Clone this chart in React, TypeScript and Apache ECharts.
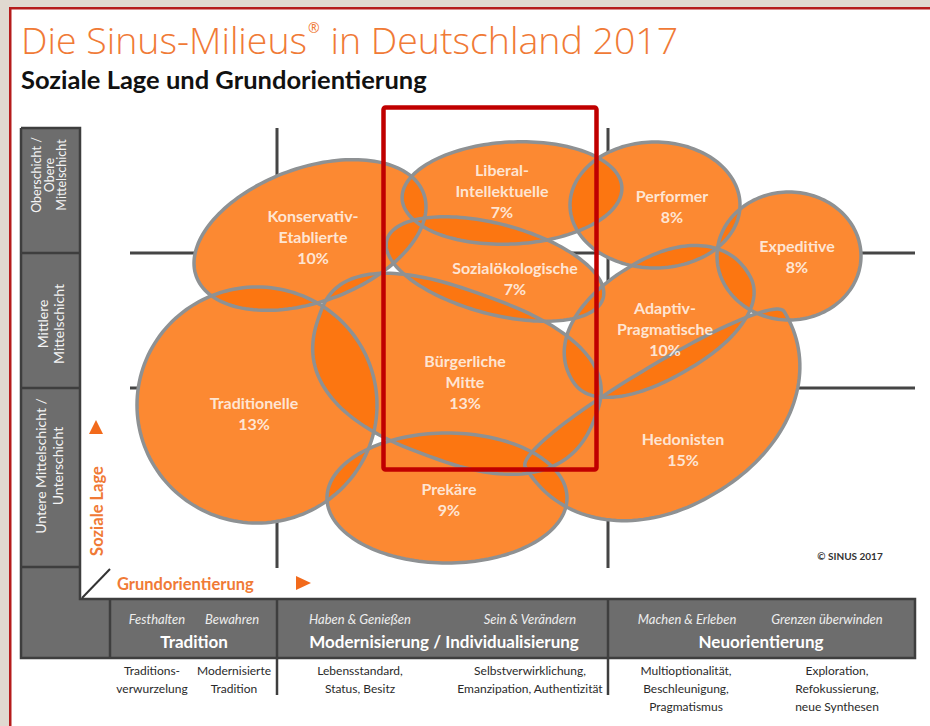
import React, { useEffect, useRef } from 'react';
import * as echarts from 'echarts';

// ---- data ----
const milieuNames = [
  'Konservativ-\nEtablierte',
  'Liberal-\nIntellektuelle',
  'Performer',
  'Expeditive',
  'Sozialökologische',
  'Adaptiv-\nPragmatische',
  'Bürgerliche\nMitte',
  'Traditionelle',
  'Prekäre',
  'Hedonisten',
];
const milieuShares = [10, 7, 8, 8, 7, 10, 13, 13, 9, 15];
// blob position on Grundorientierung (x) / Soziale Lage (y)
const blobCenterX = [180, 382, 525, 659, 365, 535, 332, 127, 317, 524];
const blobCenterY = [333, 375, 363, 312, 299, 243, 203, 163, 70, 178];
const blobRadiusRight = [121, 110, 85, 72, 112, 98, 143, 120, 120, 152];
const blobRadiusTop = [67, 51, 63, 64, 45, 68, 73, 118, 65, 22];
const blobRadiusLeft = [121, 110, 85, 72, 112, 108, 151, 120, 120, 150];
const blobRadiusBottom = [67, 51, 63, 64, 45, 50, 97, 118, 65, 120];
const blobTilt = [20, 3, 0, 0, -15, 31, -20, 0, 0, 31];
const blobRoundness = [2, 2, 2, 2, 2, 2.2, 2.5, 2, 2, 2.1];
const labelX = [183, 372, 542, 667, 385, 535, 335, 124, 319, 553];
const labelY = [332, 378, 362, 312, 290, 240, 187, 155, 69, 119];

const orientationBounds = [147, 478];
const socialBounds = [180, 315];

const socialLayers = ['Oberschicht /\nObere\nMittelschicht', 'Mittlere\nMittelschicht', 'Untere Mittelschicht /\nUnterschicht'];
const orientationGroups = ['Tradition', 'Modernisierung / Individualisierung', 'Neuorientierung'];
const orientationSubs = ['Festhalten', 'Bewahren', 'Haben & Genießen', 'Sein & Verändern', 'Machen & Erleben', 'Grenzen überwinden'];
const orientationNotes = [
  'Traditions-\nverwurzelung',
  'Modernisierte\nTradition',
  'Lebensstandard,\nStatus, Besitz',
  'Selbstverwirklichung,\nEmanzipation, Authentizität',
  'Multioptionalität,\nBeschleunigung,\nPragmatismus',
  'Exploration,\nRefokussierung,\nneue Synthesen',
];

const FONT = 'Lato, "Open Sans", sans-serif';
const ORANGE_TXT = '#f07a36';

function blobPoints(cx: number, cy: number, rR: number, rT: number, rL: number, rB: number, tiltDeg: number, n: number) {
  const th = (tiltDeg * Math.PI) / 180;
  const pts: number[][] = [];
  const N = 160;
  const e = 2 / n;
  for (let i = 0; i < N; i++) {
    const t = (i / N) * Math.PI * 2;
    const c = Math.cos(t);
    const s = Math.sin(t);
    const lx = Math.sign(c) * Math.pow(Math.abs(c), e) * (c >= 0 ? rR : rL);
    const ly = Math.sign(s) * Math.pow(Math.abs(s), e) * (s >= 0 ? rT : rB);
    pts.push([cx + lx * Math.cos(th) - ly * Math.sin(th), cy - (lx * Math.sin(th) + ly * Math.cos(th))]);
  }
  return pts;
}

const blobData = milieuNames.map((n, i) => ({
  name: n,
  value: [
    blobCenterX[i], blobCenterY[i],
    blobRadiusRight[i], blobRadiusTop[i], blobRadiusLeft[i], blobRadiusBottom[i],
    blobTilt[i], blobRoundness[i],
  ],
}));

function blobRenderer(style: any) {
  return (params: any, api: any) => {
    const c = api.coord([api.value(0), api.value(1)]);
    const a = api.size([api.value(2), api.value(3)]);
    const b = api.size([api.value(4), api.value(5)]);
    return {
      type: 'polygon',
      shape: { points: blobPoints(c[0], c[1], a[0], a[1], b[0], b[1], api.value(6), api.value(7)) },
      style,
    };
  };
}

const gridLineData = [
  ...orientationBounds.map((x) => [x, 0, x, 440]),
  ...socialBounds.map((y) => [0, y, 785, y]),
];

export default function App() {
  const ref = useRef<HTMLDivElement>(null);
  useEffect(() => {
    if (!ref.current) return;
    const chart = echarts.init(ref.current, null, { renderer: 'svg' });

    const g: any[] = [];
    // frame
    g.push({ type: 'rect', z: 0, shape: { x: 0, y: 0, width: 930, height: 726 }, style: { fill: '#e0d9d0' } });
    g.push({ type: 'rect', z: 0, shape: { x: 10, y: 8, width: 920, height: 718 }, style: { fill: '#ffffff' } });
    g.push({ type: 'rect', z: 0, shape: { x: 9, y: 7, width: 921, height: 2.5 }, style: { fill: '#b51c1c' } });
    g.push({ type: 'rect', z: 0, shape: { x: 9, y: 7, width: 2.5, height: 719 }, style: { fill: '#b51c1c' } });
    // title
    g.push({
      type: 'text', z: 1, x: 21, y: 39,
      style: {
        text: '{a|Die Sinus-Milieus}{r|®}{a| in Deutschland 2017}',
        verticalAlign: 'middle',
        rich: {
          a: { fontSize: 37.5, fontFamily: '"Open Sans", Lato, sans-serif', fill: ORANGE_TXT, color: ORANGE_TXT, fontWeight: 300 },
          r: { fontSize: 14, fontFamily: '"Open Sans", Lato, sans-serif', fill: ORANGE_TXT, color: ORANGE_TXT, verticalAlign: 'top', padding: [0, 1, 16, 1] },
        },
      },
    });
    g.push({
      type: 'text', z: 1, x: 21, y: 79,
      style: { text: 'Soziale Lage und Grundorientierung', fill: '#111', fontSize: 25.5, fontWeight: 'bold', fontFamily: FONT, verticalAlign: 'middle' },
    });
    // L-shaped bars
    const BAR = '#6d6d6d';
    const EDGE = '#3e3e3e';
    g.push({ type: 'rect', z: 1, shape: { x: 21, y: 128, width: 59, height: 530 }, style: { fill: BAR } });
    g.push({ type: 'rect', z: 1, shape: { x: 21, y: 599, width: 894, height: 59 }, style: { fill: BAR } });
    g.push({
      type: 'polyline', z: 1,
      shape: { points: [[21, 128], [80, 128], [80, 599], [915, 599], [915, 658], [21, 658], [21, 128]] },
      style: { stroke: EDGE, lineWidth: 2.5, fill: 'none' },
    });
    [253, 388, 567].forEach((y) => g.push({ type: 'line', z: 1, shape: { x1: 21, y1: y, x2: 80, y2: y }, style: { stroke: EDGE, lineWidth: 2.5 } }));
    g.push({ type: 'line', z: 1, shape: { x1: 110, y1: 599, x2: 110, y2: 658 }, style: { stroke: EDGE, lineWidth: 2.5 } });
    [277, 608].forEach((x) => g.push({ type: 'line', z: 1, shape: { x1: x, y1: 599, x2: x, y2: 695 }, style: { stroke: EDGE, lineWidth: 2.5 } }));
    g.push({ type: 'line', z: 1, shape: { x1: 82, y1: 598, x2: 110, y2: 569 }, style: { stroke: '#333', lineWidth: 2 } });

    // left bar labels
    const layerY = [175, 324, 466];
    const layerX = [49, 50, 49];
    const layerSize = [12.5, 14, 14];
    const layerLH = [12.5, 16, 17];
    socialLayers.forEach((t, i) =>
      g.push({
        type: 'text', z: 2, x: layerX[i], y: layerY[i], rotation: Math.PI / 2,
        style: { text: t, fill: '#f4f4f4', fontSize: layerSize[i], lineHeight: layerLH[i], fontFamily: FONT, align: 'center', verticalAlign: 'middle' },
      })
    );
    // Soziale Lage axis label
    g.push({
      type: 'text', z: 2, x: 97, y: 511, rotation: Math.PI / 2,
      style: { text: 'Soziale Lage', fill: ORANGE_TXT, fontSize: 16.5, fontWeight: 'bold', fontFamily: FONT, align: 'center', verticalAlign: 'middle' },
    });
    g.push({ type: 'polygon', z: 2, shape: { points: [[89, 434], [103, 434], [96, 420]] }, style: { fill: '#f26a1b' } });
    // Grundorientierung axis label
    g.push({
      type: 'text', z: 2, x: 117, y: 584,
      style: { text: 'Grundorientierung', fill: ORANGE_TXT, fontSize: 16.5, fontWeight: 'bold', fontFamily: FONT, verticalAlign: 'middle' },
    });
    g.push({ type: 'polygon', z: 2, shape: { points: [[296, 576], [296, 590], [311, 583]] }, style: { fill: '#f26a1b' } });

    // bottom bar labels
    const subX = [157, 232, 360, 530, 687, 827];
    orientationSubs.forEach((t, i) =>
      g.push({
        type: 'text', z: 2, x: subX[i], y: 619,
        style: { text: t, fill: '#eeeeee', fontSize: 13, fontStyle: 'italic', fontFamily: FONT, align: 'center', verticalAlign: 'middle' },
      })
    );
    const groupX = [194, 444, 761];
    orientationGroups.forEach((t, i) =>
      g.push({
        type: 'text', z: 2, x: groupX[i], y: 641,
        style: { text: t, fill: '#ffffff', fontSize: 17, fontWeight: 'bold', fontFamily: FONT, align: 'center', verticalAlign: 'middle' },
      })
    );
    const noteX = [152, 234, 360, 530, 686, 837];
    orientationNotes.forEach((t, i) =>
      g.push({
        type: 'text', z: 2, x: noteX[i], y: 661,
        style: { text: t, fill: '#2a2a2a', fontSize: 12, lineHeight: 18, fontFamily: FONT, align: 'center', verticalAlign: 'top' },
      })
    );
    g.push({
      type: 'text', z: 2, x: 850, y: 556,
      style: { text: '© SINUS 2017', fill: '#333', fontSize: 10, fontWeight: 'bold', fontFamily: FONT, align: 'center', verticalAlign: 'middle' },
    });
    // red highlight box
    g.push({
      type: 'rect', z: 100,
      shape: { x: 383.5, y: 107.5, width: 213, height: 362, r: 2 },
      style: { fill: 'none', stroke: '#c00000', lineWidth: 4.5 },
    });

    chart.setOption({
      animation: false,
      grid: { left: 130, top: 128, width: 785, height: 440, containLabel: false },
      xAxis: { type: 'value', min: 0, max: 785, show: false },
      yAxis: { type: 'value', min: 0, max: 440, show: false },
      graphic: g,
      series: [
        {
          type: 'custom',
          z: 1,
          silent: true,
          encode: { x: [0, 2], y: [1, 3] },
          data: gridLineData,
          renderItem: (params: any, api: any) => {
            const a = api.coord([api.value(0), api.value(1)]);
            const b = api.coord([api.value(2), api.value(3)]);
            return { type: 'line', shape: { x1: a[0], y1: a[1], x2: b[0], y2: b[1] }, style: { stroke: '#454545', lineWidth: 3 } };
          },
        },
        {
          type: 'custom', z: 2, silent: true, data: blobData,
          renderItem: blobRenderer({ fill: '#ffffff', stroke: 'none' }),
        },
        {
          type: 'custom', z: 3, silent: true, data: blobData,
          renderItem: blobRenderer({ fill: 'rgba(252,114,11,0.84)', stroke: 'none' }),
        },
        {
          type: 'custom', z: 4, silent: true, data: blobData,
          renderItem: blobRenderer({ fill: 'none', stroke: '#8e9193', lineWidth: 3.5 }),
        },
        {
          type: 'scatter', z: 5, silent: true, symbolSize: 0,
          data: milieuNames.map((n, i) => ({ name: n, value: [labelX[i], labelY[i], milieuShares[i]] })),
          label: {
            show: true,
            position: 'inside',
            formatter: (p: any) => `${p.name}\n${p.value[2]}%`,
            color: '#ffffff',
            fontSize: 16,
            lineHeight: 21,
            fontWeight: 'bold',
            fontFamily: FONT,
            align: 'center',
          },
        },
      ],
    });
    return () => chart.dispose();
  }, []);
  return <div ref={ref} style={{ position: 'fixed', left: 0, top: 0, width: 930, height: 726, background: '#e0d9d0' }} />;
}
